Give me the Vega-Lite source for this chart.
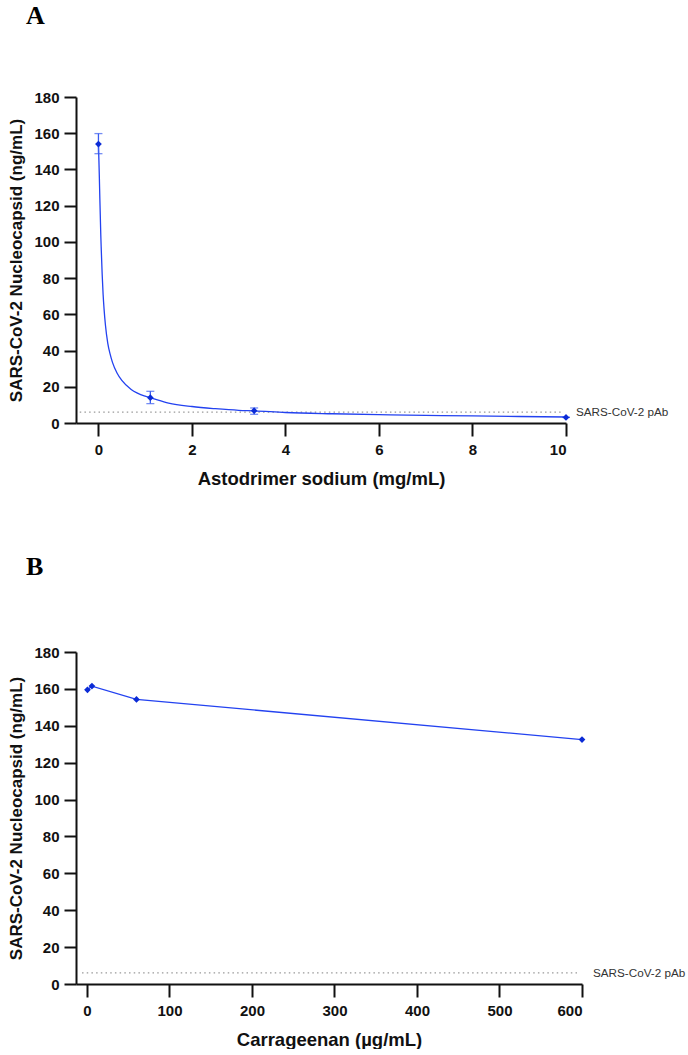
{
  "$schema": "https://vega.github.io/schema/vega-lite/v6.json",
  "background": "white",
  "padding": {"left": 7, "top": 3, "right": 5, "bottom": 0},
  "spacing": 66,
  "config": {
    "view": {"stroke": null},
    "axis": {"domainColor": "#111", "domainWidth": 2, "tickColor": "#111", "tickWidth": 2, "tickSize": 12, "labelFont": "Liberation Sans", "labelFontWeight": "bold", "labelFontSize": 15, "labelColor": "#111", "titleFont": "Liberation Sans", "titleFontWeight": "bold", "titleColor": "#111", "grid": false},
    "title": {"font": "Liberation Serif", "fontWeight": "bold", "fontSize": 26, "anchor": "start", "frame": "group", "color": "#000"}
  },
  "datasets": {
    "curveA": [
      {"x": 0, "y": 154}, {"x": 0.01, "y": 145}, {"x": 0.02, "y": 135}, {"x": 0.03, "y": 124}, {"x": 0.04, "y": 114},
      {"x": 0.05, "y": 104}, {"x": 0.06, "y": 96}, {"x": 0.08, "y": 82}, {"x": 0.1, "y": 71}, {"x": 0.12, "y": 63},
      {"x": 0.15, "y": 54}, {"x": 0.2, "y": 44}, {"x": 0.25, "y": 38}, {"x": 0.3, "y": 33.5}, {"x": 0.4, "y": 27.5},
      {"x": 0.5, "y": 23.5}, {"x": 0.7, "y": 18.5}, {"x": 1.0, "y": 14.8}, {"x": 1.11, "y": 14}, {"x": 1.5, "y": 11},
      {"x": 2, "y": 9.1}, {"x": 2.5, "y": 7.9}, {"x": 3, "y": 7.0}, {"x": 3.33, "y": 6.7}, {"x": 4, "y": 5.8},
      {"x": 5, "y": 5.1}, {"x": 6, "y": 4.6}, {"x": 7, "y": 4.2}, {"x": 8, "y": 3.9}, {"x": 9, "y": 3.6}, {"x": 10, "y": 3.3}
    ],
    "pointsA": [
      {"x": 0, "y": 154, "lo": 148.7, "hi": 159.8},
      {"x": 1.11, "y": 14, "lo": 10.7, "hi": 17.5},
      {"x": 3.33, "y": 6.8, "lo": 4.8, "hi": 8.3},
      {"x": 10, "y": 3.1, "lo": 3.1, "hi": 3.1}
    ],
    "refA": [{"x": -0.4, "x2": 9.95, "y": 6, "lx": 10, "label": "SARS-CoV-2 pAb"}],
    "pointsB": [
      {"x": 0.6, "y": 159.5}, {"x": 6, "y": 161.5}, {"x": 60, "y": 154.3}, {"x": 600, "y": 132.5}
    ],
    "refB": [{"x": -6, "x2": 595, "y": 6, "lx": 600, "label": "SARS-CoV-2 pAb"}]
  },
  "vconcat": [
    {
      "title": {"text": "A", "dx": -50, "offset": 61},
      "width": 490,
      "height": 326,
      "encoding": {
        "x": {"field": "x", "type": "quantitative", "scale": {"domain": [-0.48, 10], "nice": false, "zero": false},
              "axis": {"values": [0, 2, 4, 6, 8, 10], "title": "Astodrimer sodium (mg/mL)", "titleFontSize": 18.5, "tickSize": 13, "labelPadding": 6, "titlePadding": 12}},
        "y": {"field": "y", "type": "quantitative", "scale": {"domain": [0, 180], "nice": false},
              "axis": {"values": [0, 20, 40, 60, 80, 100, 120, 140, 160, 180], "title": "SARS-CoV-2 Nucleocapsid (ng/mL)", "titleFontSize": 17, "labelPadding": 5, "titlePadding": 8}}
      },
      "layer": [
        {"data": {"name": "refA"}, "mark": {"type": "rule", "color": "#999", "strokeDash": [1.5, 3.2], "strokeWidth": 1.3}, "encoding": {"x2": {"field": "x2"}}},
        {"data": {"name": "refA"}, "mark": {"type": "text", "align": "left", "baseline": "middle", "dx": 10, "font": "Liberation Sans", "fontSize": 11.7, "color": "#333"}, "encoding": {"x": {"field": "lx", "type": "quantitative"}, "text": {"field": "label"}}},
        {"data": {"name": "curveA"}, "mark": {"type": "line", "interpolate": "monotone", "color": "#2342f0", "strokeWidth": 1.3}},
        {"data": {"name": "pointsA"}, "mark": {"type": "rule", "color": "#3a5cf0", "strokeWidth": 1.3}, "encoding": {"y": {"field": "lo", "type": "quantitative"}, "y2": {"field": "hi"}}},
        {"data": {"name": "pointsA"}, "mark": {"type": "tick", "orient": "horizontal", "color": "#3a5cf0", "size": 8, "thickness": 1.3}, "encoding": {"y": {"field": "lo", "type": "quantitative"}}},
        {"data": {"name": "pointsA"}, "mark": {"type": "tick", "orient": "horizontal", "color": "#3a5cf0", "size": 8, "thickness": 1.3}, "encoding": {"y": {"field": "hi", "type": "quantitative"}}},
        {"data": {"name": "pointsA"}, "mark": {"type": "point", "shape": "diamond", "filled": true, "opacity": 1, "color": "#0b2bd6", "size": 45}}
      ]
    },
    {
      "title": {"text": "B", "dx": -50, "offset": 65},
      "width": 506,
      "height": 332,
      "encoding": {
        "x": {"field": "x", "type": "quantitative", "scale": {"domain": [-13.3, 600], "nice": false, "zero": false},
              "axis": {"values": [0, 100, 200, 300, 400, 500, 600], "title": "Carrageenan (µg/mL)", "titleFontSize": 18.5, "tickSize": 13, "labelPadding": 6, "titlePadding": 12}},
        "y": {"field": "y", "type": "quantitative", "scale": {"domain": [0, 180], "nice": false},
              "axis": {"values": [0, 20, 40, 60, 80, 100, 120, 140, 160, 180], "title": "SARS-CoV-2 Nucleocapsid (ng/mL)", "titleFontSize": 17, "labelPadding": 5, "titlePadding": 8}}
      },
      "layer": [
        {"data": {"name": "refB"}, "mark": {"type": "rule", "color": "#999", "strokeDash": [1.5, 3.2], "strokeWidth": 1.3}, "encoding": {"x2": {"field": "x2"}}},
        {"data": {"name": "refB"}, "mark": {"type": "text", "align": "left", "baseline": "middle", "dx": 11, "font": "Liberation Sans", "fontSize": 11.7, "color": "#333"}, "encoding": {"x": {"field": "lx", "type": "quantitative"}, "text": {"field": "label"}}},
        {"data": {"name": "pointsB"}, "mark": {"type": "line", "color": "#2342f0", "strokeWidth": 1.3}},
        {"data": {"name": "pointsB"}, "mark": {"type": "point", "shape": "diamond", "filled": true, "opacity": 1, "color": "#0b2bd6", "size": 45}}
      ]
    }
  ]
}
